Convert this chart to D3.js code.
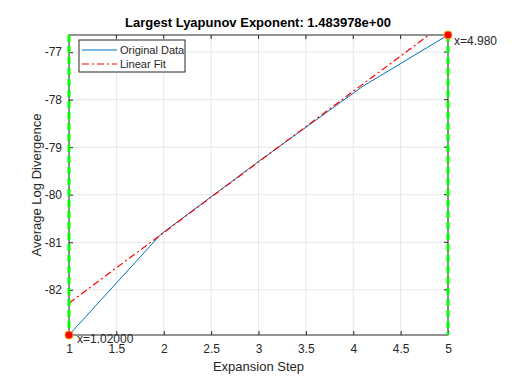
<!DOCTYPE html>
<html>
<head>
<meta charset="utf-8">
<script src="https://cdn.jsdelivr.net/npm/d3@7"></script>
<style>
  body { margin: 0; background: #fff; }
  svg { font-family: "Liberation Sans", Arial, sans-serif; }
</style>
</head>
<body>
<div id="chart"></div>
<script>
// data
var stepX = [1, 1.97, 3, 4.1, 5];
var divergence = [-82.95, -80.83, -79.30, -77.72, -76.64];
var fitX = [1, 5];
var fitY = [-82.28, -76.34];
var xTicks = [1, 1.5, 2, 2.5, 3, 3.5, 4, 4.5, 5];
var yTicks = [-82, -81, -80, -79, -78, -77];
var boundX = [1, 5];
var markX = [1, 5];
var markY = [-82.95, -76.64];
var markLabels = ["x=1.02000", "x=4.980"];

var W = 515, H = 378;
var m = {left: 69, right: 67, top: 35, bottom: 43};

var svg = d3.select("#chart").append("svg")
  .attr("width", W).attr("height", H);

var x = d3.scaleLinear().domain([1, 5]).range([m.left, W - m.right]);
var y = d3.scaleLinear().domain([-82.95, -76.64]).range([H - m.bottom, m.top]);

svg.append("defs").append("clipPath").attr("id", "clip")
  .append("rect")
  .attr("x", m.left).attr("y", m.top)
  .attr("width", x(5) - x(1)).attr("height", y.range()[0] - y.range()[1]);

// grid
svg.append("g").selectAll("line").data(xTicks).enter().append("line")
  .attr("x1", function(d){ return x(d); }).attr("x2", function(d){ return x(d); })
  .attr("y1", m.top).attr("y2", H - m.bottom)
  .style("stroke", "#e6e6e6");
svg.append("g").selectAll("line").data(yTicks).enter().append("line")
  .attr("y1", function(d){ return y(d); }).attr("y2", function(d){ return y(d); })
  .attr("x1", m.left).attr("x2", W - m.right)
  .style("stroke", "#e6e6e6");

// axes
var xAxis = svg.append("g")
  .attr("transform", "translate(0," + (H - m.bottom) + ")")
  .call(d3.axisBottom(x).tickValues(xTicks).tickSize(-4).tickPadding(9)
    .tickFormat(function(d){ return d; }));
var yAxis = svg.append("g")
  .attr("transform", "translate(" + m.left + ",0)")
  .call(d3.axisLeft(y).tickValues(yTicks).tickSize(-4).tickPadding(7)
    .tickFormat(function(d){ return d; }));
[xAxis, yAxis].forEach(function(a){
  a.select(".domain").remove();
  a.selectAll("line").style("stroke", "#262626");
  a.selectAll("text").style("font-size", "12px").style("fill", "#262626");
});

// top/right ticks
svg.append("g").selectAll("line").data(xTicks).enter().append("line")
  .attr("x1", function(d){ return x(d); }).attr("x2", function(d){ return x(d); })
  .attr("y1", m.top).attr("y2", m.top + 4).style("stroke", "#262626");
svg.append("g").selectAll("line").data(yTicks).enter().append("line")
  .attr("y1", function(d){ return y(d); }).attr("y2", function(d){ return y(d); })
  .attr("x1", W - m.right).attr("x2", W - m.right - 4).style("stroke", "#262626");

svg.append("rect")
  .attr("x", m.left).attr("y", m.top)
  .attr("width", x(5) - x(1)).attr("height", y.range()[0] - y.range()[1])
  .style("fill", "none").style("stroke", "#262626").style("stroke-width", 1);

var plot = svg.append("g").attr("clip-path", "url(#clip)");

var line = d3.line()
  .x(function(d){ return x(d[0]); })
  .y(function(d){ return y(d[1]); });

plot.append("path")
  .datum(d3.zip(stepX, divergence))
  .attr("d", line)
  .style("fill", "none").style("stroke", "#0072BD").style("stroke-width", 1);

plot.append("path")
  .datum(d3.zip(fitX, fitY))
  .attr("d", line)
  .style("fill", "none").style("stroke", "#ff0000").style("stroke-width", 1.2)
  .style("stroke-dasharray", "7,3,2,3");

// boundary lines
svg.append("g").selectAll("line").data(boundX).enter().append("line")
  .attr("x1", function(d){ return x(d); }).attr("x2", function(d){ return x(d); })
  .attr("y1", m.top).attr("y2", H - m.bottom)
  .style("stroke", "#00ff00").style("stroke-width", 3)
  .style("stroke-dasharray", "7,4");

// end markers
svg.append("g").selectAll("circle").data(d3.zip(markX, markY)).enter().append("circle")
  .attr("cx", function(d){ return x(d[0]); })
  .attr("cy", function(d){ return y(d[1]); })
  .attr("r", 4)
  .style("fill", "#ff0000").style("stroke", "#ff9900").style("stroke-width", 1);

svg.append("text").attr("x", x(1) + 8).attr("y", y(-82.95) + 8)
  .style("font-size", "12px").style("fill", "#262626").text(markLabels[0]);
svg.append("text").attr("x", x(5) + 6).attr("y", y(-76.64) + 10)
  .style("font-size", "12px").style("fill", "#262626").text(markLabels[1]);

// labels
svg.append("text").attr("x", 258).attr("y", 27).attr("text-anchor", "middle")
  .style("font-size", "13px").style("font-weight", "bold").style("fill", "#000")
  .text("Largest Lyapunov Exponent: 1.483978e+00");
svg.append("text").attr("x", x(3)).attr("y", 371).attr("text-anchor", "middle")
  .style("font-size", "13px").style("fill", "#262626").text("Expansion Step");
svg.append("text")
  .attr("transform", "translate(41," + ((m.top + H - m.bottom) / 2) + ") rotate(-90)")
  .attr("text-anchor", "middle")
  .style("font-size", "13px").style("fill", "#262626").text("Average Log Divergence");

// legend
var lg = svg.append("g").attr("transform", "translate(79,40)");
lg.append("rect").attr("width", 106).attr("height", 32)
  .style("fill", "#fff").style("stroke", "#262626").style("stroke-width", 1);
var legendNames = ["Original Data", "Linear Fit"];
var legendColors = ["#0072BD", "#ff0000"];
var legendDash = [null, "7,3,2,3"];
legendNames.forEach(function(n, i){
  lg.append("line").attr("x1", 3).attr("x2", 38)
    .attr("y1", 10 + i * 14).attr("y2", 10 + i * 14)
    .style("stroke", legendColors[i]).style("stroke-width", 1)
    .style("stroke-dasharray", legendDash[i]);
  lg.append("text").attr("x", 41).attr("y", 14 + i * 14)
    .style("font-size", "11px").style("fill", "#262626").text(n);
});
</script>
</body>
</html>
